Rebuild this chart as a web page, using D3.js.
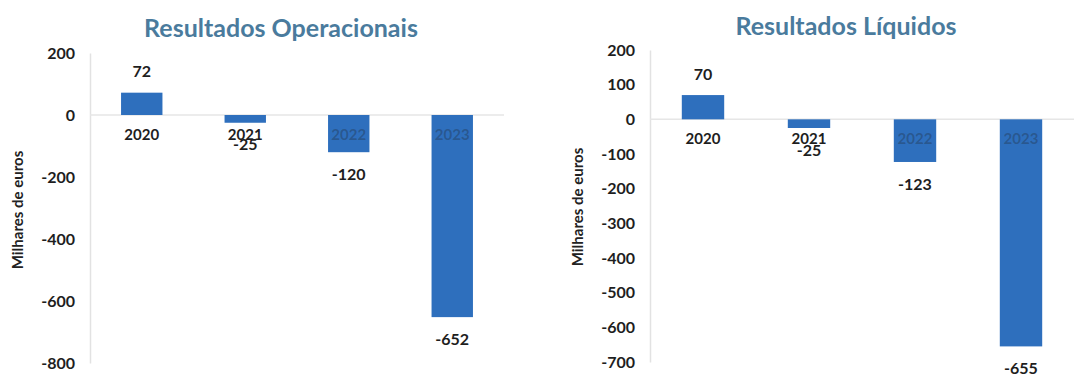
<!DOCTYPE html>
<html>
<head>
<meta charset="utf-8">
<script src="https://cdn.jsdelivr.net/npm/d3@7"></script>
<style>
  html, body { margin: 0; padding: 0; background: #fff; }
  svg { display: block; font-family: Lato, "Open Sans", sans-serif; }
</style>
</head>
<body>
<svg id="chart" width="1075" height="375"></svg>
<script>
// ---- data ----
const categories = ["2020", "2021", "2022", "2023"];
const operacionaisValues = [72, -25, -120, -652];
const liquidosValues = [70, -25, -123, -655];
const operacionaisTicks = [200, 0, -200, -400, -600, -800];
const liquidosTicks = [200, 100, 0, -100, -200, -300, -400, -500, -600, -700];
const titles = ["Resultados Operacionais", "Resultados Líquidos"];
const yAxisTitle = "Milhares de euros";

const svg = d3.select("#chart");
const barColor = "#2e6fbd";
const titleColor = "#4a7b9d";
const fmt = v => String(v);

function drawChart(cfg) {
  const g = svg.append("g");
  const y = d3.scaleLinear().domain(cfg.domain).range([cfg.yTop, cfg.yBottom]);
  const x = d3.scaleBand().domain(categories).range([cfg.xLeft, cfg.xRight]).paddingInner(0.6).paddingOuter(0.3);

  // title
  g.append("text").attr("x", cfg.titleX).attr("y", cfg.titleY)
    .attr("text-anchor", "middle").attr("font-size", 25).attr("font-weight", 700)
    .attr("fill", titleColor).text(cfg.title);

  // y axis title
  g.append("text")
    .attr("transform", `translate(${cfg.yTitleX},${cfg.yTitleY}) rotate(-90)`)
    .attr("text-anchor", "middle").attr("font-size", 15).attr("font-weight", 700)
    .attr("fill", "#222").text(yAxisTitle);

  // y axis
  const axis = d3.axisLeft(y).tickValues(cfg.ticks).tickSize(0).tickPadding(15).tickFormat(fmt);
  const ag = g.append("g").attr("transform", `translate(${cfg.xLeft},0)`).call(axis);
  ag.select(".domain").attr("stroke", "#e2e2e2").attr("stroke-width", 1.5);
  ag.selectAll(".tick text").attr("font-size", 16).attr("font-weight", 700)
    .attr("fill", "#1e1e1e").attr("font-family", "Lato, 'Open Sans', sans-serif");

  // zero line
  g.append("line").attr("x1", cfg.xLeft).attr("x2", cfg.xRight)
    .attr("y1", y(0)).attr("y2", y(0)).attr("stroke", "#e6e6e6").attr("stroke-width", 1.5);

  const data = categories.map((c, i) => ({ c, v: cfg.values[i] }));

  // bars
  g.selectAll("rect.bar").data(data).join("rect").attr("class", "bar")
    .attr("x", d => x(d.c)).attr("width", x.bandwidth())
    .attr("y", d => y(Math.max(0, d.v)))
    .attr("height", d => Math.abs(y(d.v) - y(0)))
    .attr("fill", barColor);

  // category labels (under the bars in the original, faintly visible)
  const catY = y(0) + 25;
  g.selectAll("text.cat").data(data).join("text").attr("class", "cat")
    .attr("x", d => x(d.c) + x.bandwidth() / 2).attr("y", catY)
    .attr("text-anchor", "middle").attr("font-size", 15).attr("font-weight", 700)
    .attr("fill", "#1e1e1e")
    .attr("fill-opacity", d => (y(d.v) > catY + 4 ? 0.3 : 1))
    .text(d => d.c);

  // value labels
  g.selectAll("text.val").data(data).join("text").attr("class", "val")
    .attr("x", d => x(d.c) + x.bandwidth() / 2)
    .attr("y", d => d.v >= 0 ? y(d.v) - 21 : y(d.v) + 22)
    .attr("dy", "0.35em")
    .attr("text-anchor", "middle").attr("font-size", 16).attr("font-weight", 700)
    .attr("fill", "#1e1e1e").text(d => fmt(d.v));
}

drawChart({
  title: titles[0], titleX: 281, titleY: 37,
  yTitleX: 23, yTitleY: 210,
  values: operacionaisValues, ticks: operacionaisTicks,
  domain: [200, -800], yTop: 53, yBottom: 363,
  xLeft: 90, xRight: 504
});

drawChart({
  title: titles[1], titleX: 846, titleY: 35,
  yTitleX: 583, yTitleY: 207,
  values: liquidosValues, ticks: liquidosTicks,
  domain: [200, -700], yTop: 50, yBottom: 362,
  xLeft: 650, xRight: 1074
});
</script>
</body>
</html>
